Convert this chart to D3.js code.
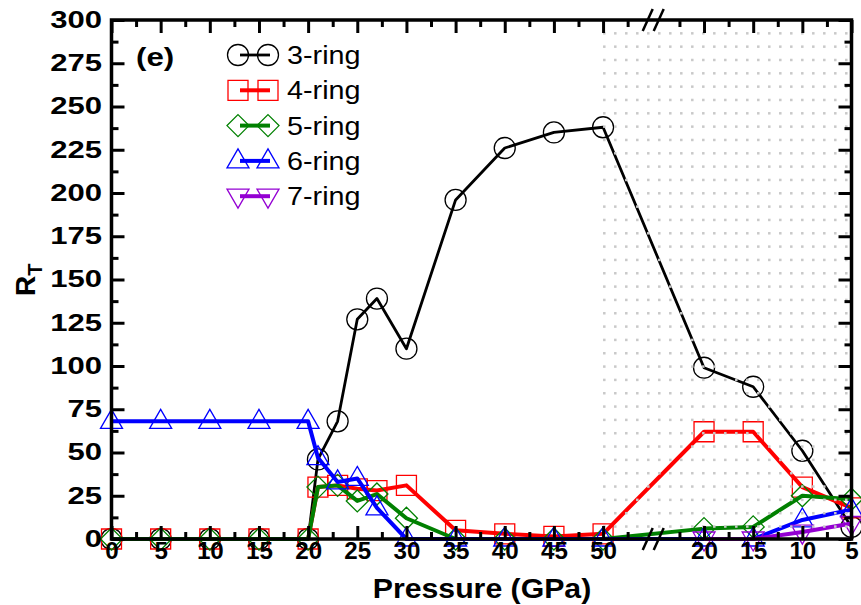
<!DOCTYPE html>
<html>
<head>
<meta charset="utf-8">
<script src="https://cdn.jsdelivr.net/npm/d3@7"></script>
<style>
  html, body { margin: 0; padding: 0; background: #fff; }
  svg { display: block; font-family: "Liberation Sans", Arial, sans-serif; }
</style>
</head>
<body>
<svg id="chart" width="861" height="605"></svg>
<script>
// Pressure steps: compression run, then decompression run after the axis break
const compressionP = [0, 5, 10, 15, 20, 21, 23, 25, 27, 30, 35, 40, 45, 50];
const decompressionP = [20, 15, 10, 5];

// R_T per ring size (compression values followed by decompression values)
const ring3 = [0, 0, 0, 0, 0, 46, 68, 127, 139, 110, 196, 226, 235, 238, 99, 88, 51, 7];
const ring4 = [0, 0, 0, 0, 0, 30, 31, 29, 28, 31, 5, 3, 1.5, 3, 62, 62, 30, 18];
const ring5 = [0, 0, 0, 0, 0, 30, 31, 22, 26, 12, 0, 0, 0, 0, 6, 7, 25, 23];
const ring6 = [68, 68, 68, 68, 68, 47, 33, 35, 18, 0, 0, 0, 0, 0, 0, 0, 11, 17];
const ring7 = [null, null, null, null, null, null, null, null, null, null, null, null, null, null, 0, 0, 4, 9];

const seriesNames = ["3-ring", "4-ring", "5-ring", "6-ring", "7-ring"];
const yTicks = [0, 25, 50, 75, 100, 125, 150, 175, 200, 225, 250, 275, 300];
const compTicks = [0, 5, 10, 15, 20, 25, 30, 35, 40, 45, 50];
const decTicks = [20, 15, 10, 5];

// layout
const L = 111.5, R = 851.5, T = 20, B = 539;
const GAP = 10.27;               // axis units taken by the break
const uComp = p => p;
const uDec = p => 50 + GAP + (20 - p);

const x = d3.scaleLinear().domain([0, uDec(5)]).range([L, R]);
const y = d3.scaleLinear().domain([0, 300]).range([B, T]);

const svg = d3.select("#chart");

const styles = [
  { color: "#000000", width: 2.8, shape: "circle" },
  { color: "#ff0000", width: 4, shape: "square" },
  { color: "#008000", width: 4, shape: "diamond" },
  { color: "#0000ff", width: 4, shape: "triUp" },
  { color: "#9400d3", width: 4, shape: "triDown" }
];
const allValues = [ring3, ring4, ring5, ring6, ring7];
const positions = compressionP.map(uComp).concat(decompressionP.map(uDec));

function markerPath(shape) {
  switch (shape) {
    case "circle": return "M-10.5,0a10.5,10.5 0 1,0 21,0a10.5,10.5 0 1,0 -21,0";
    case "square": return "M-10,-10H10V10H-10Z";
    case "diamond": return "M0,-11L11,0L0,11L-11,0Z";
    case "triUp": return "M0,-12L11,7H-11Z";
    case "triDown": return "M0,12L11,-7H-11Z";
  }
}

const plot = svg.append("g");

allValues.forEach((vals, i) => {
  const st = styles[i];
  const pts = vals.map((v, k) => ({ u: positions[k], v })).filter(d => d.v !== null);
  const line = d3.line().x(d => x(d.u)).y(d => y(d.v));
  const g = plot.append("g");
  g.append("path").datum(pts)
    .attr("d", line)
    .attr("fill", "none")
    .attr("stroke", st.color)
    .attr("stroke-width", st.width)
    .attr("stroke-linejoin", "round");
  g.selectAll("path.m").data(pts).enter().append("path")
    .attr("class", "m")
    .attr("d", markerPath(st.shape))
    .attr("transform", d => `translate(${x(d.u)},${y(d.v)})`)
    .attr("fill", "none")
    .attr("stroke", st.color)
    .attr("stroke-width", 1.3);
});

// dotted shading of the decompression region
const dots = svg.append("g").attr("fill", "#c9c9c9");
const dotXs = d3.range(604.3, R - 2, 11);
const dotYs = d3.range(T + 13.33, B - 2, 13.33);
dotYs.forEach(dy => dotXs.forEach(dx => {
  dots.append("rect").attr("x", dx - 1.25).attr("y", dy - 1.25).attr("width", 2.5).attr("height", 2.5);
}));

// axes
const majorX = compTicks.map(uComp).concat(decTicks.map(uDec));
const majorXLabels = compTicks.concat(decTicks);
const minorX = d3.range(2.5, 55, 5).map(uComp).concat([22.5, 17.5, 12.5, 7.5].map(uDec));
const minorY = d3.range(12.5, 300, 25);

function styleAxis(g) {
  g.select(".domain").remove();
  g.selectAll(".tick line").attr("stroke", "#000").attr("stroke-width", 3);
}

const xs = 1.05;
svg.append("g").attr("transform", `translate(0,${B})`)
  .call(d3.axisBottom(x).tickValues(majorX).tickSizeInner(-13).tickSizeOuter(0).tickPadding(4)
    .tickFormat((d, i) => majorXLabels[i]))
  .call(styleAxis)
  .call(g => g.selectAll("text")
    .attr("fill", "#000").attr("font-size", 23).attr("font-weight", "bold")
    .attr("font-family", "'Liberation Sans', Arial, sans-serif")
    .attr("transform", `scale(${xs},1)`));
svg.append("g").attr("transform", `translate(0,${B})`)
  .call(d3.axisBottom(x).tickValues(minorX).tickSizeInner(-7).tickSizeOuter(0).tickFormat(""))
  .call(styleAxis);
svg.append("g").attr("transform", `translate(0,${T})`)
  .call(d3.axisTop(x).tickValues(majorX).tickSizeInner(-13).tickSizeOuter(0).tickFormat(""))
  .call(styleAxis);
svg.append("g").attr("transform", `translate(0,${T})`)
  .call(d3.axisTop(x).tickValues(minorX).tickSizeInner(-7).tickSizeOuter(0).tickFormat(""))
  .call(styleAxis);

const ys = 1.35;
svg.append("g").attr("transform", `translate(${L},0)`)
  .call(d3.axisLeft(y).tickValues(yTicks).tickSizeInner(-13).tickSizeOuter(0).tickPadding(9.5))
  .call(styleAxis)
  .call(g => g.selectAll("text")
    .attr("fill", "#000").attr("font-size", 23).attr("font-weight", "bold")
    .attr("font-family", "'Liberation Sans', Arial, sans-serif")
    .attr("x", -9.5 / ys)
    .attr("transform", `scale(${ys},1)`));
svg.append("g").attr("transform", `translate(${L},0)`)
  .call(d3.axisLeft(y).tickValues(minorY).tickSizeInner(-7).tickSizeOuter(0).tickFormat(""))
  .call(styleAxis);
svg.append("g").attr("transform", `translate(${R},0)`)
  .call(d3.axisRight(y).tickValues(yTicks).tickSizeInner(-13).tickSizeOuter(0).tickFormat(""))
  .call(styleAxis);
svg.append("g").attr("transform", `translate(${R},0)`)
  .call(d3.axisRight(y).tickValues(minorY).tickSizeInner(-7).tickSizeOuter(0).tickFormat(""))
  .call(styleAxis);

// frame
svg.append("rect").attr("x", L).attr("y", T).attr("width", R - L).attr("height", B - T)
  .attr("fill", "none").attr("stroke", "#000").attr("stroke-width", 3.5);

// axis break marks
const bx = x(55.1);
[T, B].forEach(by => {
  [-5.5, 5.5].forEach(off => {
    svg.append("line")
      .attr("x1", bx + off - 5).attr("y1", by + 11)
      .attr("x2", bx + off + 5).attr("y2", by - 11)
      .attr("stroke", "#000").attr("stroke-width", 2.5);
  });
});

// axis titles
svg.append("text").attr("transform", `translate(482,598) scale(1.08,1)`)
  .attr("text-anchor", "middle").attr("font-size", 28).attr("font-weight", "bold")
  .text("Pressure (GPa)");

const yt = svg.append("text").attr("transform", "translate(35,296) rotate(-90)")
  .attr("font-size", 28).attr("font-weight", "bold");
yt.append("tspan").text("R");
yt.append("tspan").attr("font-size", 20).attr("dy", 7).text("T");

// panel tag
svg.append("text").attr("transform", "translate(136,66) scale(1.2,1)")
  .attr("font-size", 26).attr("font-weight", "bold").text("(e)");

// legend
const legend = svg.append("g");
seriesNames.forEach((name, i) => {
  const st = styles[i];
  const ly = 55 + i * 35.3;
  legend.append("line").attr("x1", 240).attr("x2", 270).attr("y1", ly).attr("y2", ly)
    .attr("stroke", st.color).attr("stroke-width", st.width);
  [238, 268].forEach(mx => legend.append("path")
    .attr("d", markerPath(st.shape))
    .attr("transform", `translate(${mx},${ly})`)
    .attr("fill", "none").attr("stroke", st.color).attr("stroke-width", 1.3));
  legend.append("text").attr("transform", `translate(287,${ly + 9}) scale(1.15,1)`)
    .attr("font-size", 25).text(name);
});
</script>
</body>
</html>
